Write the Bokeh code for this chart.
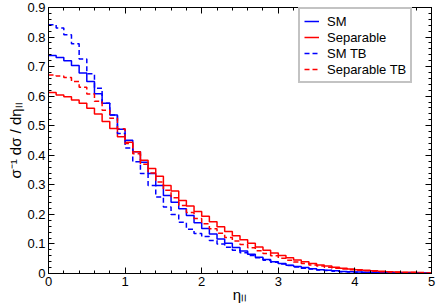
import numpy as np
from bokeh.plotting import figure
from bokeh.models import Range1d, LinearAxis, Legend, LegendItem, SingleIntervalTicker
from bokeh.embed import file_html
from bokeh.resources import INLINE

# histogram bins: 50 bins of width 0.1 from 0 to 5
x_min, x_max, n_bins = 0.0, 5.0, 50
edges = np.linspace(x_min, x_max, n_bins + 1)

sm = [0.738, 0.731, 0.720, 0.704, 0.678, 0.650, 0.608, 0.576, 0.536, 0.488,
      0.451, 0.412, 0.376, 0.338, 0.298, 0.264, 0.241, 0.219, 0.196, 0.172,
      0.152, 0.134, 0.117, 0.102, 0.088, 0.076, 0.065, 0.055, 0.047, 0.040,
      0.034, 0.028, 0.024, 0.020, 0.016, 0.013, 0.011, 0.009, 0.007, 0.006,
      0.005, 0.004, 0.003, 0.003, 0.002, 0.002, 0.001, 0.001, 0.001, 0.001]

separable = [0.612, 0.604, 0.598, 0.587, 0.576, 0.559, 0.540, 0.514, 0.491, 0.463,
             0.444, 0.412, 0.383, 0.355, 0.329, 0.298, 0.279, 0.247, 0.228, 0.210,
             0.194, 0.175, 0.158, 0.142, 0.128, 0.114, 0.102, 0.090, 0.079, 0.069,
             0.061, 0.053, 0.046, 0.040, 0.034, 0.029, 0.025, 0.021, 0.018, 0.015,
             0.013, 0.011, 0.009, 0.008, 0.006, 0.005, 0.004, 0.004, 0.003, 0.002]

sm_tb = [0.842, 0.831, 0.808, 0.777, 0.726, 0.676, 0.627, 0.576, 0.536, 0.474,
         0.425, 0.378, 0.338, 0.298, 0.259, 0.225, 0.200, 0.173, 0.150, 0.135,
         0.125, 0.112, 0.100, 0.089, 0.079, 0.070, 0.061, 0.053, 0.045, 0.038,
         0.032, 0.027, 0.022, 0.018, 0.015, 0.012, 0.010, 0.008, 0.006, 0.005,
         0.004, 0.003, 0.003, 0.002, 0.002, 0.001, 0.001, 0.001, 0.001, 0.001]

separable_tb = [0.672, 0.668, 0.663, 0.650, 0.630, 0.607, 0.583, 0.552, 0.525, 0.490,
                0.440, 0.405, 0.370, 0.340, 0.310, 0.282, 0.256, 0.230, 0.206, 0.186,
                0.168, 0.151, 0.136, 0.122, 0.110, 0.098, 0.087, 0.077, 0.068, 0.060,
                0.052, 0.045, 0.039, 0.034, 0.029, 0.025, 0.021, 0.018, 0.015, 0.013,
                0.011, 0.009, 0.008, 0.006, 0.005, 0.004, 0.003, 0.003, 0.002, 0.002]

series_names = ["SM", "Separable", "SM TB", "Separable TB"]
series_colors = ["#0000ff", "#ff0000", "#0000ff", "#ff0000"]
series_dash = ["solid", "solid", "5 3", "5 3"]
series_values = [sm, separable, sm_tb, separable_tb]

FONT = "Liberation Sans"

p = figure(width=436, height=305, output_backend="svg", toolbar_location=None,
           x_range=Range1d(0, 5), y_range=Range1d(0, 0.9),
           min_border_left=48, min_border_right=5, min_border_top=7,
           min_border_bottom=30)
p.background_fill_color = "white"
p.border_fill_color = "white"
p.outline_line_color = "black"
p.outline_line_width = 1
p.grid.visible = False

items = []
for name, col, dash, vals in zip(series_names, series_colors, series_dash, series_values):
    ys = list(vals) + [vals[-1]]
    r = p.step(x=edges, y=ys, mode="after", line_color=col, line_width=1.5,
               line_dash=dash)
    items.append(LegendItem(label=name, renderers=[r]))

xt = SingleIntervalTicker(interval=1, num_minor_ticks=5)
yt = SingleIntervalTicker(interval=0.1, num_minor_ticks=5)

for ax in p.xaxis:
    ax.ticker = xt
for ax in p.yaxis:
    ax.ticker = yt
    ax.major_label_overrides = {0: "0"}

def style(ax):
    ax.axis_line_color = "black"
    ax.major_tick_in = 6
    ax.major_tick_out = 0
    ax.minor_tick_in = 3
    ax.minor_tick_out = 0
    ax.major_tick_line_color = "black"
    ax.minor_tick_line_color = "black"
    ax.major_label_text_font = FONT
    ax.major_label_text_font_size = "13px"
    ax.major_label_text_color = "black"
    ax.major_label_text_line_height = 1.0
    ax.axis_label_text_font = FONT
    ax.axis_label_text_font_size = "15px"
    ax.axis_label_text_font_style = "normal"
    ax.axis_label_text_color = "black"
    ax.axis_label_text_line_height = 1.0

for ax in p.xaxis + p.yaxis:
    style(ax)
    ax.major_label_standoff = 3
p.xaxis.axis_label_standoff = -3
p.yaxis.axis_label_standoff = 0

p.xaxis.axis_label = "ηₗₗ"
p.yaxis.axis_label = "σ⁻¹ dσ / dηₗₗ"

top = LinearAxis(ticker=xt)
right = LinearAxis(ticker=yt)
for ax in (top, right):
    style(ax)
    ax.major_label_text_font_size = "0px"
    ax.major_label_text_color = None
    ax.major_label_standoff = 0
p.add_layout(top, "above")
p.add_layout(right, "right")

legend = Legend(items=items, location=(250, 190))
legend.label_text_font = FONT
legend.label_text_font_size = "13px"
legend.label_text_color = "black"
legend.glyph_width = 15
legend.glyph_height = 16
legend.label_height = 16
legend.label_standoff = 8
legend.spacing = 0
legend.padding = 4
legend.margin = 0
legend.border_line_color = "#888888"
legend.border_line_width = 2
legend.background_fill_color = "white"
legend.background_fill_alpha = 1
p.add_layout(legend, "center")

open("out.html", "w").write(file_html(p, INLINE))
